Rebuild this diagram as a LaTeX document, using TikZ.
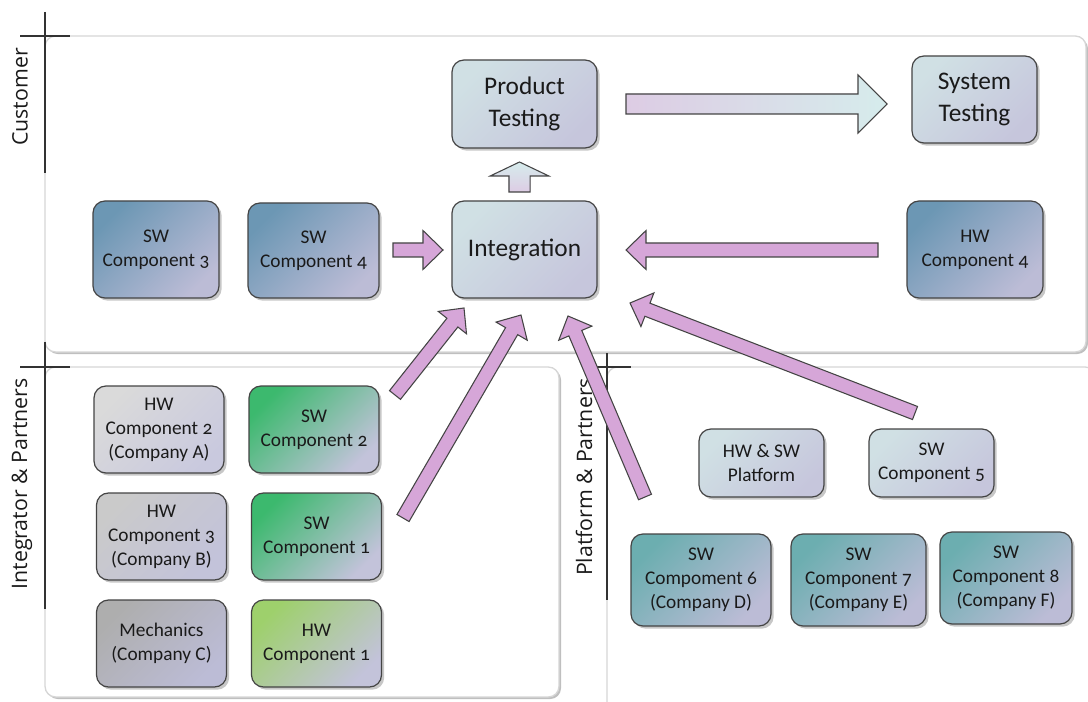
\documentclass[tikz,border=0pt]{standalone}
\usepackage{fontspec}
\setmainfont{Carlito}[Numbers=OldStyle]
\newfontfamily\lanefont{Open Sans}
\usetikzlibrary{calc,shadows}

\definecolor{ink}{HTML}{1A1A1A}
\definecolor{frame}{HTML}{444444}
\definecolor{laneline}{HTML}{D6D6D6}
\definecolor{header}{HTML}{333333}
\definecolor{lilac}{HTML}{BCBCD6}
\definecolor{blueA}{HTML}{6C97B4}
\definecolor{paleA}{HTML}{D0E0E4}
\definecolor{greenA}{HTML}{3CB96E}
\definecolor{limeA}{HTML}{9ED06C}
\definecolor{greyA}{HTML}{DADADA}
\definecolor{greyB}{HTML}{CACACA}
\definecolor{greyC}{HTML}{AEAEAE}
\definecolor{tealA}{HTML}{6CAEB0}
\definecolor{pinkfill}{HTML}{D6A6D8}
\definecolor{flowA}{HTML}{DDCCE4}
\definecolor{flowB}{HTML}{D6ECEC}

\tikzset{
  box/.style={draw=frame, line width=0.9pt, rounded corners=9pt, align=center,
    inner sep=2pt, text=ink, font=\fontsize{14.5}{18}\selectfont,
    drop shadow={shadow xshift=2pt, shadow yshift=-2pt, opacity=0.22, fill=black}},
  bigbox/.style={box, font=\fontsize{19}{24}\selectfont},
  small/.style={minimum width=97.5pt, minimum height=65.25pt},
  fill-blue/.style={top color=blueA, middle color=blueA!88!lilac, bottom color=lilac, shading angle=45},
  fill-pale/.style={top color=paleA, middle color=paleA!60!lilac, bottom color=lilac!85!white, shading angle=45},
  fill-green/.style={top color=greenA, middle color=greenA!82!lilac, bottom color=lilac!90!white, shading angle=45},
  fill-lime/.style={top color=limeA, middle color=limeA!80!lilac, bottom color=lilac!90!white, shading angle=45},
  fill-grey1/.style={top color=greyA, middle color=greyA!75!lilac, bottom color=lilac!80!white, shading angle=45},
  fill-grey2/.style={top color=greyB, middle color=greyB!80!lilac, bottom color=lilac!90!white, shading angle=45},
  fill-grey3/.style={top color=greyC, middle color=greyC!85!lilac, bottom color=lilac, shading angle=45},
  fill-teal/.style={top color=tealA, middle color=tealA!85!lilac, bottom color=lilac, shading angle=45},
  lane/.style={fill=white, draw=laneline, line width=1pt, rounded corners=8pt,
    drop shadow={shadow xshift=1.5pt, shadow yshift=-1.5pt, opacity=0.25, fill=black}},
  headerline/.style={draw=header, line width=1pt},
  lanelabel/.style={rotate=90, text=ink, font=\lanefont\fontsize{16}{19}\selectfont},
  arrowbody/.style={fill=pinkfill, draw=frame, line width=0.8pt, line join=miter},
}

% block arrow: [options]{tail}{tip}{half shaft}{half head}{head length}
\newcommand\blockarrow[6][]{%
  \path ($(#3)!#6!(#2)$) coordinate (hb);
  \draw[arrowbody,#1]
    ($(#2)!#4!90:(#3)$) -- ($(hb)!#4!90:(#3)$) -- ($(hb)!#5!90:(#3)$) --
    (#3) --
    ($(hb)!#5!-90:(#3)$) -- ($(hb)!#4!-90:(#3)$) -- ($(#2)!#4!-90:(#3)$) -- cycle;
}

\begin{document}
\begin{tikzpicture}[x=0.75pt, y=-0.75pt]
\useasboundingbox (0,0) rectangle (1088,702);
\clip (0,0) rectangle (1088,702);

% swimlanes
\path[lane] (45,36) rectangle (1086,352);
\path[lane] (45,367) rectangle (559,697);
\path[lane] (607,367) rectangle (1096,720);

% lane headers
\draw[headerline] (45,12) -- (45,173);
\draw[headerline] (20,36) -- (70,36);
\draw[headerline] (45,342) -- (45,609);
\draw[headerline] (20,367) -- (70,367);
\draw[headerline] (607,353) -- (607,600);
\draw[headerline] (585,367) -- (631,367);

\node[lanelabel] (lcust) at (20,97) {Customer};
\node[lanelabel] (lint) at (22,484) {Integrator \& Partners};
\node[lanelabel] (lplat) at (584,477) {Platform \& Partners};

% customer lane
\node[bigbox, fill-pale, minimum width=108.75pt, minimum height=66pt] (pt) at (524.5,104) {Product\\Testing};
\node[bigbox, fill-pale, minimum width=93.75pt, minimum height=65.25pt] (st) at (974.5,99.5) {System\\Testing};
\node[bigbox, fill-pale, minimum width=108.75pt, minimum height=72.75pt] (int) at (524.5,249.5) {Integration};
\node[box, fill-blue, minimum width=94.5pt, minimum height=72.75pt] (sw3) at (156,249.5) {SW\\Component 3};
\node[box, fill-blue, minimum width=98.25pt, minimum height=71.25pt] (sw4) at (313.5,250.5) {SW\\Component 4};
\node[box, fill-blue, minimum width=102pt, minimum height=72.75pt] (hw4) at (975,249.5) {HW\\Component 4};

% integrator lane
\node[box, small, fill-grey1] (hw2) at (159,429.5) {HW\\Component 2\\(Company A)};
\node[box, small, fill-green] (sw2) at (314,429.5) {SW\\Component 2};
\node[box, small, fill-grey2] (hw3) at (161.5,536.5) {HW\\Component 3\\(Company B)};
\node[box, small, fill-green] (sw1) at (316.5,536.5) {SW\\Component 1};
\node[box, small, fill-grey3] (mech) at (161.5,643.5) {Mechanics\\(Company C)};
\node[box, small, fill-lime] (hw1) at (316.5,643.5) {HW\\Component 1};

% platform lane
\node[box, fill-pale, minimum width=93.75pt, minimum height=51pt] (plat) at (761.5,463) {HW \& SW\\Platform};
\node[box, fill-pale, minimum width=93.75pt, minimum height=51pt] (sw5) at (931.5,463) {SW\\Component 5};
\node[box, fill-teal, minimum width=105pt, minimum height=69pt] (sw6) at (701,580) {SW\\Compoment 6\\(Company D)};
\node[box, fill-teal, minimum width=101.25pt, minimum height=69pt] (sw7) at (858.5,580) {SW\\Component 7\\(Company E)};
\node[box, fill-teal, minimum width=99pt, minimum height=69pt] (sw8) at (1006,578) {SW\\Component 8\\(Company F)};

% arrow end points
\coordinate (ptout) at (626,104);
\coordinate (stin) at (887,104);
\coordinate (intup) at (519.5,192);
\coordinate (ptin) at (519.5,162);
\coordinate (sw4out) at (393,250);
\coordinate (intw) at (443,250);
\coordinate (hw4out) at (878,250);
\coordinate (inte) at (626,250);
\coordinate (sw2out) at (395,395);
\coordinate (ins1) at (464,308);
\coordinate (sw1out) at (403,518);
\coordinate (ins2) at (521,315);
\coordinate (platout) at (645,497);
\coordinate (ins3) at (568,316);
\coordinate (sw5out) at (915,413);
\coordinate (ins4) at (630,303);

% flows
\blockarrow[left color=flowA, right color=flowB]{ptout}{stin}{7.5pt}{21.75pt}{21.75pt}
\blockarrow[top color=flowB, bottom color=flowA]{intup}{ptin}{7.9pt}{22pt}{10.5pt}
\blockarrow{sw4out}{intw}{5.25pt}{14.6pt}{15pt}
\blockarrow{hw4out}{inte}{5.25pt}{14.6pt}{15pt}
\blockarrow{sw2out}{ins1}{5.25pt}{13.5pt}{14pt}
\blockarrow{sw1out}{ins2}{5.25pt}{13.5pt}{14pt}
\blockarrow{platout}{ins3}{5.25pt}{13.5pt}{14pt}
\blockarrow{sw5out}{ins4}{5.25pt}{13.5pt}{14pt}
\end{tikzpicture}
\end{document}
